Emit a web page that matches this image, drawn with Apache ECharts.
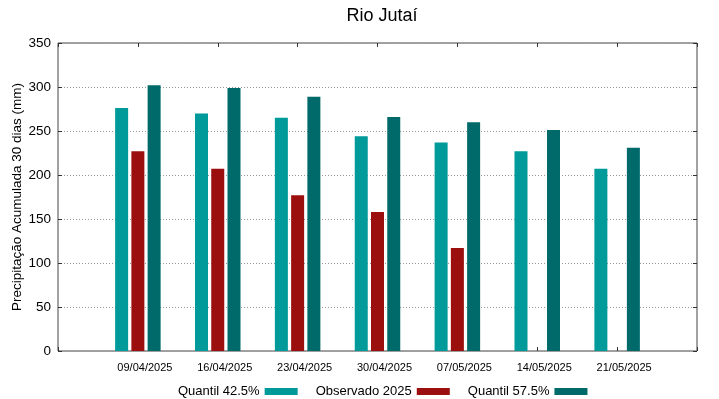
<!DOCTYPE html>
<html>
<head>
<meta charset="utf-8">
<script src="https://cdn.jsdelivr.net/npm/echarts@6/dist/echarts.min.js"></script>
<style>
  html, body { margin: 0; padding: 0; background: #fff; }
  #chart { width: 719px; height: 399px; }
</style>
</head>
<body>
<div id="chart"></div>
<script>
// categories (weeks) and the three series
const dates = ['09/04/2025', '16/04/2025', '23/04/2025', '30/04/2025', '07/05/2025', '14/05/2025', '21/05/2025']
const q425 = [276, 270, 265, 244, 237, 227, 207]
const observado = [227, 207, 177, 158, 117]
const q575 = [302, 299, 289, 266, 260, 251, 231]
const yTicks = [0, 50, 100, 150, 200, 250, 300, 350]

const font = 'Liberation Sans'
const chart = echarts.init(document.getElementById('chart'))

const toPoints = arr => arr.map((v, i) => [i, v])

const tickOnly = {
  axisLine: { show: false, onZero: false },
  axisLabel: { show: false },
  splitLine: { show: false },
  axisTick: { inside: true, length: 4, lineStyle: { color: '#333' } }
}

chart.setOption({
  animation: false,
  textStyle: { fontFamily: font },
  title: {
    text: 'Rio Jutaí',
    left: 377,
    textAlign: 'center',
    top: 2,
    textStyle: { fontSize: 18, fontWeight: 'normal', color: '#000', fontFamily: font }
  },
  grid: {
    left: 58, right: 22, top: 43, bottom: 48,
    outerBoundsMode: 'none',
    containLabel: false,
    show: true, borderColor: '#444', borderWidth: 1
  },
  legend: {
    left: 173,
    top: 380,
    align: 'right',
    icon: 'rect',
    itemWidth: 33,
    itemHeight: 7,
    itemGap: 18,
    textStyle: { fontSize: 13, color: '#000', fontFamily: font },
    data: ['Quantil 42.5%', 'Observado 2025', 'Quantil 57.5%']
  },
  xAxis: [{
    type: 'value',
    min: -1, max: 7, interval: 1,
    position: 'bottom',
    axisLine: { show: false, onZero: false },
    splitLine: { show: false },
    axisTick: { inside: true, length: 4, lineStyle: { color: '#333' } },
    axisLabel: {
      fontSize: 11, color: '#000', margin: 11,
      padding: [0, 0, 0, 14],
      formatter: v => dates[v] || ''
    }
  }, {
    type: 'value',
    min: -1, max: 7, interval: 1,
    position: 'top',
    ...tickOnly
  }],
  yAxis: [{
    type: 'value',
    min: 0, max: 350, interval: 50,
    name: 'Precipitação Acumulada 30 dias (mm)',
    nameLocation: 'middle',
    nameGap: 34,
    nameMoveOverlap: false,
    nameTextStyle: { fontSize: 13.5, color: '#000', fontFamily: font },
    axisLine: { show: false, onZero: false },
    axisTick: { inside: true, length: 4, lineStyle: { color: '#333' } },
    axisLabel: {
      fontSize: 13.5, color: '#000', margin: 7,
      formatter: v => yTicks.includes(v) ? String(v) : ''
    },
    splitLine: { lineStyle: { color: '#999', type: [1, 2], width: 1 } }
  }, {
    type: 'value',
    min: 0, max: 350, interval: 50,
    position: 'right',
    ...tickOnly
  }],
  series: [{
    name: 'Quantil 42.5%',
    type: 'bar',
    barWidth: 13,
    barGap: '25%',
    itemStyle: { color: '#009a9a' },
    data: toPoints(q425)
  }, {
    name: 'Observado 2025',
    type: 'bar',
    barWidth: 13,
    barGap: '25%',
    itemStyle: { color: '#9b0f0f' },
    data: toPoints(observado)
  }, {
    name: 'Quantil 57.5%',
    type: 'bar',
    barWidth: 13,
    barGap: '25%',
    itemStyle: { color: '#006a6a' },
    data: toPoints(q575)
  }]
})
</script>
</body>
</html>
